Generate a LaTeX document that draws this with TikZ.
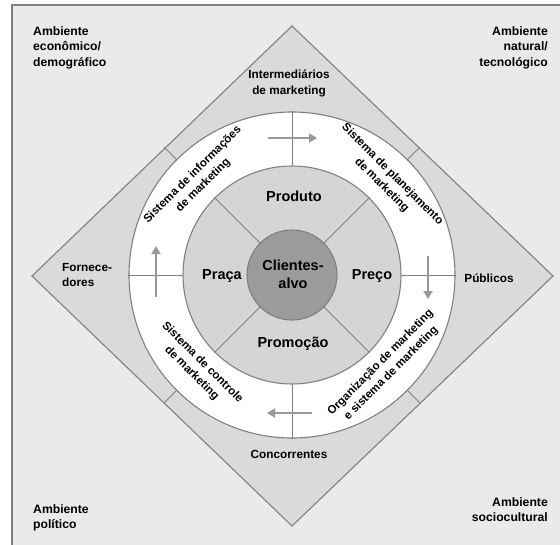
\documentclass[tikz,border=0pt]{standalone}
\usepackage{fontspec}
\setmainfont{Liberation Sans}
\usetikzlibrary{arrows.meta,calc}

\definecolor{paper}{HTML}{EAEAEA}
\definecolor{band}{HTML}{DADADA}
\definecolor{mixring}{HTML}{D5D5D5}
\definecolor{core}{HTML}{9B9B9B}
\definecolor{edgegray}{HTML}{808080}
\definecolor{flowgray}{HTML}{999999}

\begin{document}
\begin{tikzpicture}[x=1pt,y=-1pt,
  outline/.style={draw=edgegray, line width=1.1pt},
  divider/.style={draw=edgegray, line width=1pt},
  flow/.style={draw=flowgray, line width=2.6pt, -{Triangle[length=8pt,width=9pt]}},
  disc/.style={circle, outline, inner sep=0pt},
  envlabel/.style={font=\fontsize{12.2}{15.5}\selectfont\bfseries, inner sep=0pt},
  actorlabel/.style={font=\fontsize{11.8}{15.5}\selectfont\bfseries, inner sep=0pt, align=center},
  mixlabel/.style={font=\fontsize{14.5}{18}\selectfont\bfseries, inner sep=0pt, align=center},
  ringlabel/.style={font=\fontsize{11.5}{15}\selectfont\bfseries, inner sep=0pt, align=center}
]
\useasboundingbox (0,0) rectangle (560,544);
\clip (0,0) rectangle (560,544);
\fill[white] (0,0) rectangle (560,544);

% page frame, running past the right and bottom edges
\draw[draw=edgegray, line width=1.6pt, fill=paper] (12,5) rectangle (580,570);

% diamond of market actors
\coordinate (C) at (292,275);
\coordinate (dT) at (292,26);
\coordinate (dR) at (553,276);
\coordinate (dB) at (292,526);
\coordinate (dL) at (32,276);
\path[outline, fill=band] (dT) -- (dR) -- (dB) -- (dL) -- cycle;

% rings
\node[disc, fill=white, minimum size=326pt] (outer) at (C) {};
\node[disc, fill=mixring, minimum size=218pt] (mid) at (C) {};
\node[disc, fill=core, minimum size=90pt] (inner) at (C) {};

% dividers of the diamond band
\foreach \a in {45,135,225,315}
  \draw[divider] (outer.\a) -- ($(C)!1.105!(outer.\a)$);

% dividers of the white ring
\draw[divider] (mid.north) -- (outer.north);
\draw[divider] (mid.south) -- (outer.south);
\draw[divider] (mid.west) -- (outer.west);
\draw[divider] (mid.east) -- (outer.east);

% dividers of the marketing mix
\foreach \a in {45,135,225,315}
  \draw[divider] (inner.\a) -- (mid.\a);

% circulation arrows
\coordinate (aTs) at (268,138); \coordinate (aTe) at (317,138);
\coordinate (aRs) at (428,256); \coordinate (aRe) at (428,299);
\coordinate (aBs) at (312,413); \coordinate (aBe) at (267,413);
\coordinate (aLs) at (156,297); \coordinate (aLe) at (156,246);
\draw[flow] (aTs) -- (aTe);
\draw[flow] (aRs) -- (aRe);
\draw[flow] (aBs) -- (aBe);
\draw[flow] (aLs) -- (aLe);

% environments
\node[envlabel, anchor=north west, align=left] (envEco) at (33,26) {Ambiente\\econômico/\\demográfico};
\node[envlabel, anchor=north east, align=right] (envNat) at (548,26) {Ambiente\\natural/\\tecnológico};
\node[envlabel, anchor=north west, align=left] (envPol) at (33,504) {Ambiente\\político};
\node[envlabel, anchor=north east, align=right] (envSoc) at (548,497) {Ambiente\\sociocultural};

% market actors
\node[actorlabel, anchor=north] (interm) at (289,70) {Intermediários\\de marketing};
\node[actorlabel, anchor=north west, align=left] (fornec) at (62,263) {Fornece-\\dores};
\node[actorlabel] (publicos) at (489,278) {Públicos};
\node[actorlabel] (concorr) at (289,454) {Concorrentes};

% marketing mix
\node[mixlabel] (produto) at (294,196) {Produto};
\node[mixlabel] (praca) at (222,276) {Praça};
\node[mixlabel] (preco) at (372,276) {Preço};
\node[mixlabel] (promocao) at (293,344) {Promoção};
\node[mixlabel] (clientes) at (293,274) {Clientes-\\alvo};

% marketing systems
\node[ringlabel, rotate=45] (sisInfo) at (198,180) {Sistema de informações\\de marketing};
\node[ringlabel, rotate=-45] (sisPlan) at (387,180) {Sistema de planejamento\\de marketing};
\node[ringlabel, rotate=45] (sisOrg) at (386,368) {Organização de marketing\\e sistema de marketing};
\node[ringlabel, rotate=-45] (sisCtrl) at (197,368) {Sistema de controle\\de marketing};
\end{tikzpicture}
\end{document}
